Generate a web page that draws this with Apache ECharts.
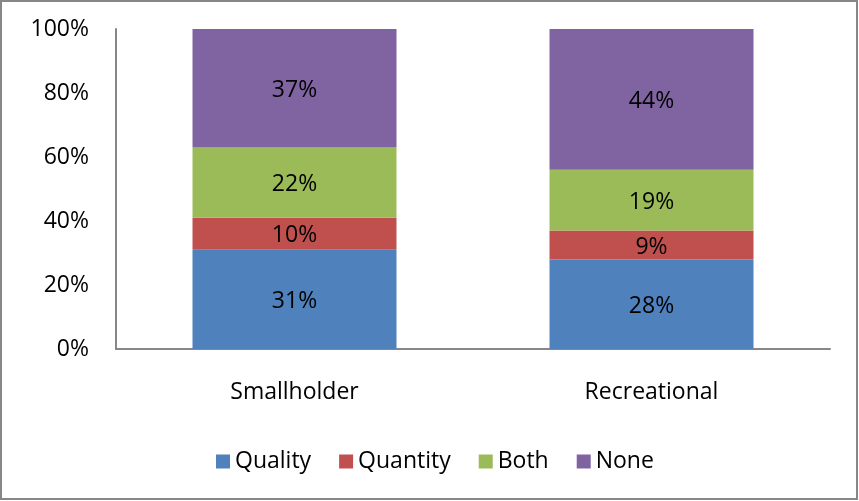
<!DOCTYPE html>
<html>
<head>
<meta charset="utf-8">
<script src="https://cdn.jsdelivr.net/npm/echarts@6/dist/echarts.min.js"></script>
<style>
  html, body { margin: 0; padding: 0; background: #fff; }
  #chart { width: 859px; height: 501px; }
</style>
</head>
<body>
<div id="chart"></div>
<script>
// Share of respondents by concern type, per group (percent of total)
const categories = ['Smallholder', 'Recreational'];
const seriesNames = ['Quality', 'Quantity', 'Both', 'None'];
const quality = [31, 28];
const quantity = [10, 9];
const both = [22, 19];
const none = [37, 44];
const yTicks = [0, 20, 40, 60, 80, 100];

const colors = ['#4F81BD', '#C0504D', '#9BBB59', '#8064A2'];
const values = [quality, quantity, both, none];
const FONT = '"Open Sans", sans-serif';
const FS = 23;

const chart = echarts.init(document.getElementById('chart'));

chart.setOption({
  animation: false,
  backgroundColor: '#ffffff',
  color: colors,
  textStyle: { fontFamily: FONT },
  grid: { left: 116, right: 29, top: 29, bottom: 152, containLabel: false },
  graphic: [{
    type: 'rect',
    shape: { x: 1, y: 1, width: 856, height: 498 },
    style: { fill: 'none', stroke: '#878787', lineWidth: 2 },
    silent: true
  }],
  legend: {
    data: seriesNames,
    left: 216,
    top: 450,
    padding: 0,
    itemWidth: 14,
    itemHeight: 14,
    itemGap: 28,
    icon: 'rect',
    textStyle: { fontFamily: FONT, fontSize: FS, color: '#000' }
  },
  xAxis: {
    type: 'category',
    data: categories,
    axisLine: { lineStyle: { color: '#878787', width: 2 } },
    axisTick: { show: false },
    axisLabel: { fontFamily: FONT, fontSize: FS, color: '#000', margin: 32 }
  },
  yAxis: {
    type: 'value',
    min: yTicks[0],
    max: yTicks[yTicks.length - 1],
    interval: yTicks[1] - yTicks[0],
    axisLine: { show: true, lineStyle: { color: '#878787', width: 2 } },
    axisTick: { show: false },
    splitLine: { show: false },
    axisLabel: { fontFamily: FONT, fontSize: FS, color: '#000', margin: 27, formatter: '{value}%' }
  },
  series: seriesNames.map((name, i) => ({
    name: name,
    type: 'bar',
    stack: 'total',
    barWidth: 204,
    data: values[i],
    itemStyle: { color: colors[i] },
    label: {
      show: true,
      position: 'inside',
      offset: [0, 2],
      formatter: '{c}%',
      fontFamily: FONT,
      fontSize: FS,
      color: '#000'
    }
  }))
});
</script>
</body>
</html>
